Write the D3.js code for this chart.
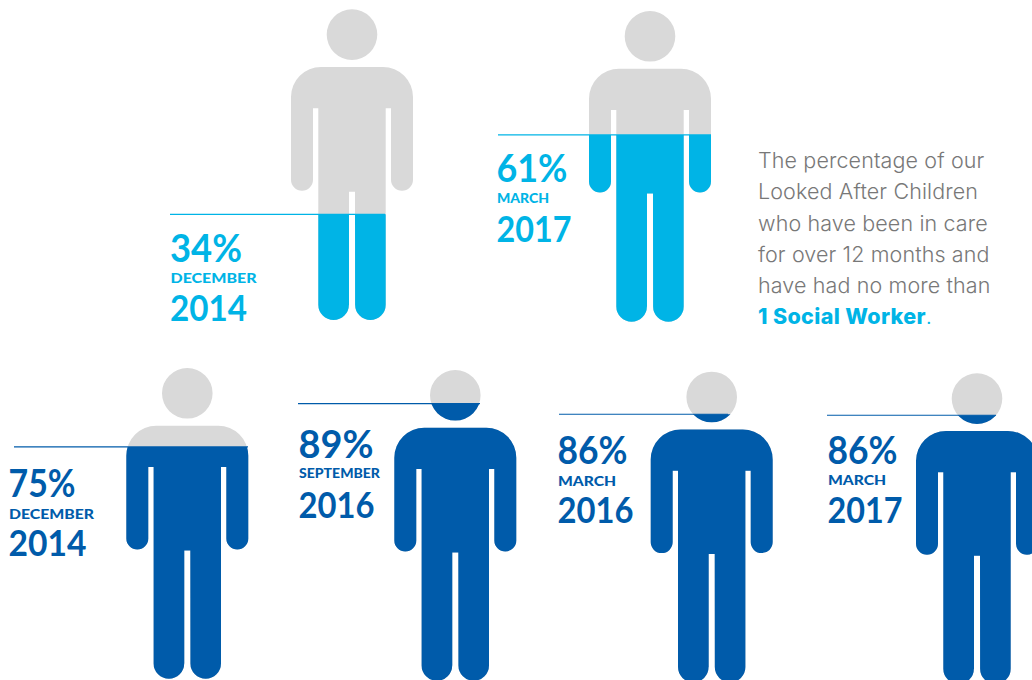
<!DOCTYPE html>
<html>
<head>
<meta charset="utf-8">
<script src="https://d3js.org/d3.v7.min.js"></script>
<style>
  html, body { margin: 0; padding: 0; background: #fff; overflow: hidden; }
  svg { display: block; }
  text { font-family: Lato, "Open Sans", sans-serif; }
  .pct { font-size: 38px; font-weight: 700; }
  .month { font-size: 13.5px; font-weight: 900; }
  .year { font-size: 36px; font-weight: 700; }
  .note { font-family: Inter, Lato, sans-serif; font-size: 21.5px; font-weight: 300; letter-spacing: 0.12px; fill: #787878; }
</style>
</head>
<body>
<div class="chart"></div>
<script>
// values
const ids = ["a", "b", "c", "d", "e", "f"];
const percentLabels = ["34%", "61%", "75%", "89%", "86%", "86%"];
const monthLabels = ["DECEMBER", "MARCH", "DECEMBER", "SEPTEMBER", "MARCH", "MARCH"];
const yearLabels = ["2014", "2017", "2014", "2016", "2016", "2017"];
// height of the fill as actually drawn, % of figure height (the 61% one is drawn a bit short)
const fillLevels = [34, 60.1, 74.6, 89.2, 86.3, 86.5];
const groups = ["social", "social", "other", "other", "other", "other"];
const noteLines = ["The percentage of our", "Looked After Children", "who have been in care", "for over 12 months and", "have had no more than"];
const noteBold = "1 Social Worker";

const width = 1032;
const height = 680;
const cyan = "#00B4E6";
const blue = "#005BAA";
const grey = "#D9D9D9";

// layout per figure
const centerX = d3.scaleOrdinal().domain(ids).range([352, 650, 187.3, 455.3, 711.7, 977]);
const topY = d3.scaleOrdinal().domain(ids).range([9.3, 11, 368, 370, 371.7, 373.3]);
const lineStart = d3.scaleOrdinal().domain(ids).range([170, 498, 14, 298, 559, 827]);
const lineEnd = d3.scaleOrdinal().domain(ids).range([385, 711, 248, 480, 728, 996]);
const textX = d3.scaleOrdinal().domain(ids).range([170, 496.5, 8.5, 298.5, 557.5, 827.5]);
const pctY = d3.scaleOrdinal().domain(ids).range([261.7, 181.7, 496.7, 458.3, 464, 464]);
const monthY = d3.scaleOrdinal().domain(ids).range([282.7, 202.7, 519, 477.7, 486, 485]);
const yearY = d3.scaleOrdinal().domain(ids).range([321, 241.7, 556, 517.7, 523.3, 523.3]);
const pctW = d3.scaleOrdinal().domain(ids).range([72, 71, 67, 75, 70, 70]);
const monthW = d3.scaleOrdinal().domain(ids).range([86, 52, 85, 81, 58, 58]);
const yearW = d3.scaleOrdinal().domain(ids).range([77, 75, 78, 76, 76, 75]);
const color = d3.scaleOrdinal().domain(["social", "other"]).range([cyan, blue]);

const figureH = 310.7;
const level = d3.scaleLinear().domain([0, 100]).range([figureH, 0]);

// person outline, origin at top of head / centre line
function bodyPath() {
  const p = d3.path();
  const top = 57.7, hw = 61, sr = 30, armIn = 39, armBot = 181.4, armPit = 99;
  const tw = 33.7, crotch = 182.4, gap = 3, bot = figureH, lr = 15.3;
  const armR = (hw - armIn) / 2;
  p.moveTo(-hw + sr, top);
  p.lineTo(hw - sr, top);
  p.arcTo(hw, top, hw, top + sr, sr);
  p.lineTo(hw, armBot - armR);
  p.arc(hw - armR, armBot - armR, armR, 0, Math.PI);
  p.lineTo(armIn, armPit);
  p.lineTo(tw, armPit);
  p.lineTo(tw, bot - lr);
  p.arc(tw - lr, bot - lr, lr, 0, Math.PI);
  p.lineTo(gap, crotch);
  p.lineTo(-gap, crotch);
  p.lineTo(-gap, bot - lr);
  p.arc(-tw + lr, bot - lr, lr, 0, Math.PI);
  p.lineTo(-tw, armPit);
  p.lineTo(-armIn, armPit);
  p.lineTo(-armIn, armBot - armR);
  p.arc(-hw + armR, armBot - armR, armR, 0, Math.PI);
  p.lineTo(-hw, top + sr);
  p.arcTo(-hw, top, -hw + sr, top, sr);
  p.closePath();
  p.moveTo(25.3, 25.3);
  p.arc(0, 25.3, 25.3, 0, 2 * Math.PI);
  return p.toString();
}

const svg = d3.select(".chart")
  .append("svg")
    .attr("width", width)
    .attr("height", height);

const defs = svg.append("defs");

const rows = ids.map((id, i) => ({
  id,
  pct: percentLabels[i],
  month: monthLabels[i],
  year: yearLabels[i],
  fill: fillLevels[i],
  group: groups[i]
}));

defs.selectAll("clipPath")
  .data(rows)
  .enter().append("clipPath")
    .attr("id", d => `fill-${d.id}`)
  .append("rect")
    .attr("x", -80)
    .attr("y", d => level(d.fill))
    .attr("width", 160)
    .attr("height", d => figureH - level(d.fill) + 1);

const figures = svg.selectAll(".figure")
  .data(rows)
  .enter().append("g")
    .attr("class", "figure")
    .attr("transform", d => `translate(${centerX(d.id)},${topY(d.id)})`);

figures.append("path")
  .attr("d", bodyPath())
  .style("fill", grey);

figures.append("path")
  .attr("d", bodyPath())
  .attr("clip-path", d => `url(#fill-${d.id})`)
  .style("fill", d => color(d.group));

//level lines
svg.selectAll(".level-line")
  .data(rows)
  .enter().append("line")
    .attr("class", "level-line")
    .attr("x1", d => lineStart(d.id))
    .attr("x2", d => lineEnd(d.id))
    .attr("y1", d => topY(d.id) + level(d.fill))
    .attr("y2", d => topY(d.id) + level(d.fill))
    .style("stroke", d => color(d.group))
    .style("stroke-width", "1.2px");

//labels, squeezed to the widths seen in the picture
const labels = svg.selectAll(".label")
  .data(rows)
  .enter().append("g")
    .attr("class", "label")
    .style("fill", d => color(d.group));

labels.append("text").attr("class", "pct")
  .attr("x", d => textX(d.id)).attr("y", d => pctY(d.id))
  .attr("textLength", d => pctW(d.id)).attr("lengthAdjust", "spacingAndGlyphs")
  .text(d => d.pct);
labels.append("text").attr("class", "month")
  .attr("x", d => textX(d.id) + 0.5).attr("y", d => monthY(d.id))
  .attr("textLength", d => monthW(d.id)).attr("lengthAdjust", "spacingAndGlyphs")
  .text(d => d.month);
labels.append("text").attr("class", "year")
  .attr("x", d => textX(d.id)).attr("y", d => yearY(d.id))
  .attr("textLength", d => yearW(d.id)).attr("lengthAdjust", "spacingAndGlyphs")
  .text(d => d.year);

//side note
const noteY = d3.scaleLinear().domain([0, 5]).range([168.3, 324]);
svg.selectAll(".note")
  .data(noteLines)
  .enter().append("text")
    .attr("class", "note")
    .attr("x", 758)
    .attr("y", (d, i) => noteY(i))
    .text(d => d);

const last = svg.append("text")
  .attr("class", "note")
  .attr("x", 758)
  .attr("y", noteY(5))
  .style("fill", cyan);
last.append("tspan").style("font-weight", 800).style("letter-spacing", "0.35px").text(noteBold);
last.append("tspan").text(".");
</script>
</body>
</html>
